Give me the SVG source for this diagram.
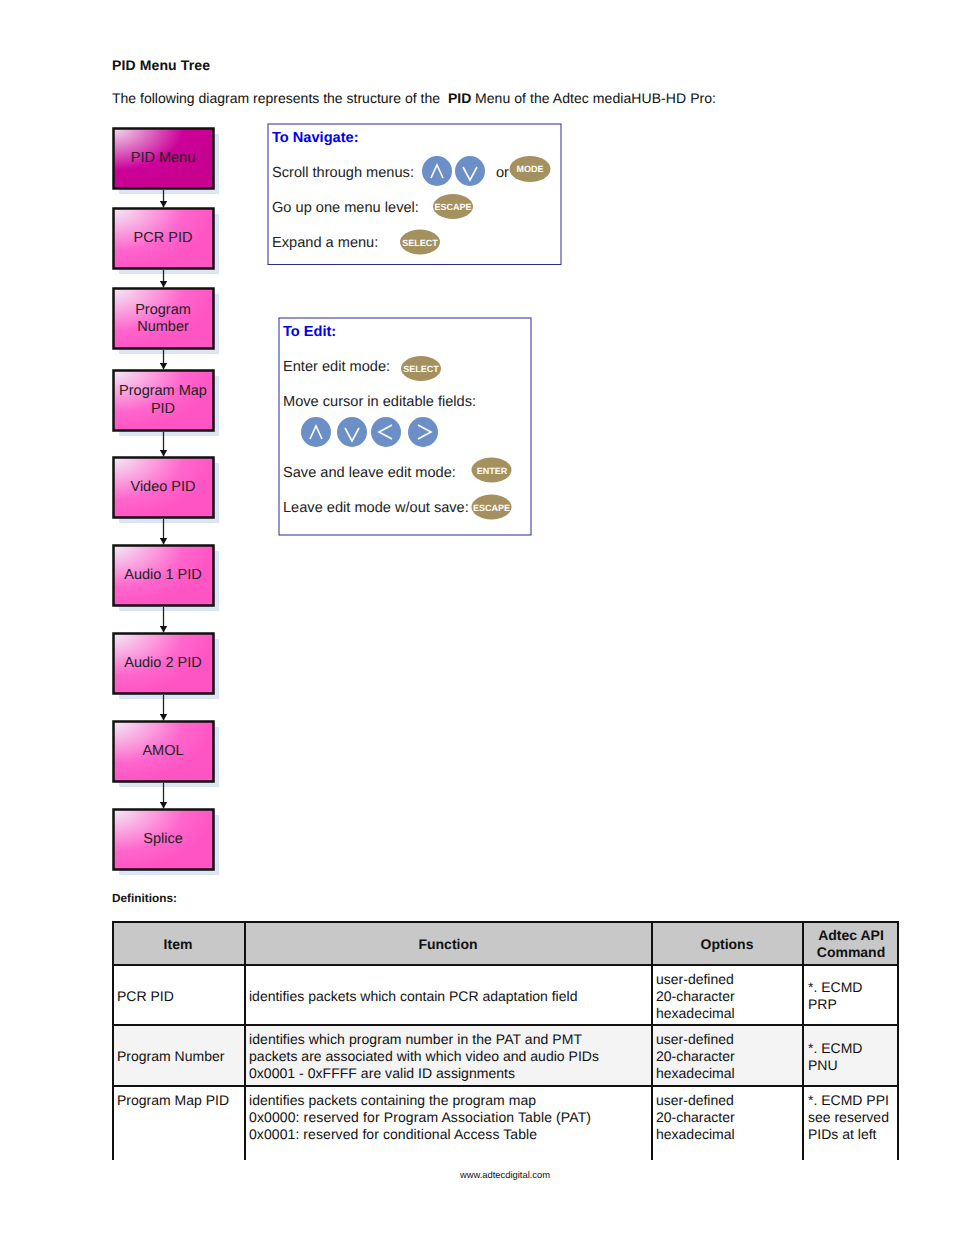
<svg xmlns="http://www.w3.org/2000/svg" width="954" height="1235" viewBox="0 0 954 1235">
<style>
text{font-family:"Liberation Sans",Arial,sans-serif;fill:#111;text-rendering:geometricPrecision}
.t{font-size:14px}
.b{font-size:14px;font-weight:bold}
.n{font-size:14.5px;text-anchor:middle;fill:#222}
.shadow{fill:#dce6f2}
.box{fill:url(#pink);stroke:#111;stroke-width:2.5}
.box1{fill:url(#magenta);stroke:#111;stroke-width:2.5}
.conn{stroke:#222;stroke-width:1.3;fill:none;marker-end:url(#arr)}
.panel{fill:#fff;stroke:#2a2a9a;stroke-width:1}
.h{font-size:14.6px;font-weight:bold;fill:#0000f0}
.l{font-size:14.6px;fill:#222}
.blue{fill:#6b8fc6}
.chev{fill:none;stroke:#fff;stroke-width:1.6}
.tan{fill:#a59160}
.key{font-size:9px;font-weight:bold;fill:#fff;text-anchor:middle}
.c{font-size:14px}
.hd{font-size:14px;font-weight:bold;text-anchor:middle}
.g{stroke:#111;stroke-width:2;fill:none}
</style>
<defs>
<radialGradient id="pink" cx="0" cy="0" r="1"><stop offset="0" stop-color="#f4eaf6"/><stop offset="0.7" stop-color="#ff66cc"/><stop offset="1" stop-color="#ff55c4"/></radialGradient>
<radialGradient id="magenta" cx="0" cy="0" r="1"><stop offset="0" stop-color="#f0dcec"/><stop offset="0.7" stop-color="#cc0099"/><stop offset="1" stop-color="#c80090"/></radialGradient>
<marker id="arr" markerUnits="userSpaceOnUse" markerWidth="7" markerHeight="8" refX="7" refY="4" orient="auto"><path d="M0 0L7 4L0 8Z" fill="#111"/></marker>
</defs>
<rect width="954" height="1235" fill="#fff"/>
<text class="b" x="112" y="70" textLength="98">PID Menu Tree</text>
<text class="t" x="112" y="103" textLength="328">The following diagram represents the structure of the</text>
<text class="b" x="448" y="103">PID</text>
<text class="t" x="475" y="103" textLength="241">Menu of the Adtec mediaHUB-HD Pro:</text>

<g id="n-pid-menu"><rect class="shadow" x="119" y="134" width="100" height="60"/><rect class="box1" x="113.500" y="128.500" width="100" height="60"/><text class="n" x="163" y="162">PID Menu</text></g>
<g id="n-pcr-pid"><rect class="shadow" x="119" y="214" width="100" height="60"/><rect class="box" x="113.500" y="208.500" width="100" height="60"/><text class="n" x="163" y="242">PCR PID</text></g>
<g id="n-program-number"><rect class="shadow" x="119" y="294" width="100" height="60"/><rect class="box" x="113.500" y="288.500" width="100" height="60"/><text class="n" x="163" y="314">Program</text><text class="n" x="163" y="331">Number</text></g>
<g id="n-program-map"><rect class="shadow" x="119" y="376" width="100" height="60"/><rect class="box" x="113.500" y="370.500" width="100" height="60"/><text class="n" x="163" y="395">Program Map</text><text class="n" x="163" y="413">PID</text></g>
<g id="n-video"><rect class="shadow" x="119" y="463" width="100" height="60"/><rect class="box" x="113.500" y="457.500" width="100" height="60"/><text class="n" x="163" y="491">Video PID</text></g>
<g id="n-audio1"><rect class="shadow" x="119" y="551" width="100" height="60"/><rect class="box" x="113.500" y="545.500" width="100" height="60"/><text class="n" x="163" y="579">Audio 1 PID</text></g>
<g id="n-audio2"><rect class="shadow" x="119" y="639" width="100" height="60"/><rect class="box" x="113.500" y="633.500" width="100" height="60"/><text class="n" x="163" y="667">Audio 2 PID</text></g>
<g id="n-amol"><rect class="shadow" x="119" y="727" width="100" height="60"/><rect class="box" x="113.500" y="721.500" width="100" height="60"/><text class="n" x="163" y="755">AMOL</text></g>
<g id="n-splice"><rect class="shadow" x="119" y="815" width="100" height="60"/><rect class="box" x="113.500" y="809.500" width="100" height="60"/><text class="n" x="163" y="843">Splice</text></g>

<g id="connectors">
<line class="conn" x1="163.500" y1="190" x2="163.500" y2="207.500"/>
<line class="conn" x1="163.500" y1="270" x2="163.500" y2="287.500"/>
<line class="conn" x1="163.500" y1="350" x2="163.500" y2="369.500"/>
<line class="conn" x1="163.500" y1="432" x2="163.500" y2="456.500"/>
<line class="conn" x1="163.500" y1="519" x2="163.500" y2="544.500"/>
<line class="conn" x1="163.500" y1="607" x2="163.500" y2="632.500"/>
<line class="conn" x1="163.500" y1="695" x2="163.500" y2="720.500"/>
<line class="conn" x1="163.500" y1="783" x2="163.500" y2="808.500"/>
</g>

<g id="n-navigate">
<rect class="panel" x="268" y="124" width="293" height="140.500"/>
<text class="h" x="272" y="142">To Navigate:</text>
<text class="l" x="272" y="177">Scroll through menus:</text>
<circle class="blue" cx="437" cy="171" r="15"/><path class="chev" d="M431 178L437 165L443 178"/>
<circle class="blue" cx="470" cy="171" r="15"/><path class="chev" d="M463 167L470 180L477 167"/>
<text class="l" x="496" y="177">or</text>
<ellipse class="tan" cx="530" cy="169" rx="20.500" ry="13"/><text class="key" x="530" y="172">MODE</text>
<text class="l" x="272" y="212">Go up one menu level:</text>
<ellipse class="tan" cx="453" cy="206.500" rx="20" ry="12.500"/><text class="key" x="453" y="210">ESCAPE</text>
<text class="l" x="272" y="247">Expand a menu:</text>
<ellipse class="tan" cx="420" cy="242" rx="20" ry="12.500"/><text class="key" x="420" y="245.500">SELECT</text>
</g>

<g id="n-edit">
<rect class="panel" x="279" y="318" width="252" height="217"/>
<text class="h" x="283" y="336">To Edit:</text>
<text class="l" x="283" y="371">Enter edit mode:</text>
<ellipse class="tan" cx="421" cy="368.500" rx="20" ry="12.500"/><text class="key" x="421" y="372">SELECT</text>
<text class="l" x="283" y="406">Move cursor in editable fields:</text>
<circle class="blue" cx="316" cy="432" r="15"/><path class="chev" d="M310 439L316 426L322 439"/>
<circle class="blue" cx="352" cy="432" r="15"/><path class="chev" d="M345 428L352 441L359 428"/>
<circle class="blue" cx="386" cy="432" r="15"/><path class="chev" d="M392 425L379 432L392 439"/>
<circle class="blue" cx="423" cy="432" r="15"/><path class="chev" d="M418 425L431 432L418 439"/>
<text class="l" x="283" y="476.500">Save and leave edit mode:</text>
<ellipse class="tan" cx="491.500" cy="470" rx="20" ry="12.500"/><text class="key" x="492" y="473.500">ENTER</text>
<text class="l" x="283" y="511.500">Leave edit mode w/out save:</text>
<ellipse class="tan" cx="491.500" cy="507" rx="20" ry="12.500"/><text class="key" x="491.500" y="510.500">ESCAPE</text>
</g>

<text x="112" y="902" style="font-size:11.800px;font-weight:bold">Definitions:</text>

<g id="table">
<rect x="113" y="922" width="785" height="43" fill="#c8c8c8"/>
<rect x="113" y="1025" width="785" height="61" fill="#f4f4f4"/>
<path class="g" d="M112 922H899M112 965H899M112 1025H899M112 1086H899M113 921V1160M245 921V1160M652 921V1160M803 921V1160M898 921V1160"/>
<text class="hd" x="178" y="949">Item</text>
<text class="hd" x="448" y="949">Function</text>
<text class="hd" x="727" y="949">Options</text>
<text class="hd" x="851" y="940">Adtec API</text>
<text class="hd" x="851" y="957">Command</text>
<text class="c" x="117" y="1001">PCR PID</text>
<text class="c" x="249" y="1001">identifies packets which contain PCR adaptation field</text>
<text class="c" x="656" y="984">user-defined</text>
<text class="c" x="656" y="1001">20-character</text>
<text class="c" x="656" y="1018">hexadecimal</text>
<text class="c" x="808" y="992">*. ECMD</text>
<text class="c" x="808" y="1009">PRP</text>
<text class="c" x="117" y="1061">Program Number</text>
<text class="c" x="249" y="1044" textLength="333">identifies which program number in the PAT and PMT</text>
<text class="c" x="249" y="1061" textLength="350">packets are associated with which video and audio PIDs</text>
<text class="c" x="249" y="1078" textLength="266">0x0001 - 0xFFFF are valid ID assignments</text>
<text class="c" x="656" y="1044">user-defined</text>
<text class="c" x="656" y="1061">20-character</text>
<text class="c" x="656" y="1078">hexadecimal</text>
<text class="c" x="808" y="1053">*. ECMD</text>
<text class="c" x="808" y="1070">PNU</text>
<text class="c" x="117" y="1105">Program Map PID</text>
<text class="c" x="249" y="1105" textLength="287">identifies packets containing the program map</text>
<text class="c" x="249" y="1122" textLength="342">0x0000: reserved for Program Association Table (PAT)</text>
<text class="c" x="249" y="1139" textLength="288">0x0001: reserved for conditional Access Table</text>
<text class="c" x="656" y="1105">user-defined</text>
<text class="c" x="656" y="1122">20-character</text>
<text class="c" x="656" y="1139">hexadecimal</text>
<text class="c" x="808" y="1105">*. ECMD PPI</text>
<text class="c" x="808" y="1122">see reserved</text>
<text class="c" x="808" y="1139">PIDs at left</text>
</g>
<text x="505" y="1178" style="font-size:9.400px;text-anchor:middle">www.adtecdigital.com</text>
</svg>
